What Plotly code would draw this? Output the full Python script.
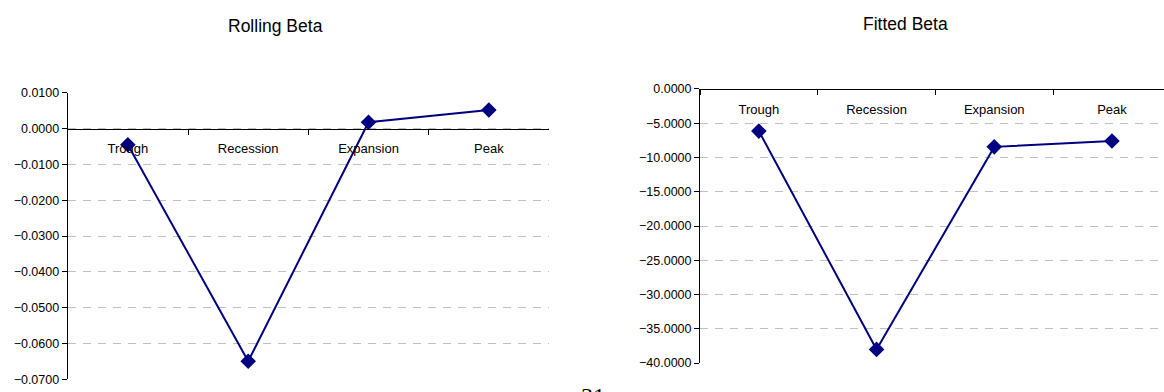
import plotly.graph_objects as go

# Business-cycle phases and beta estimates
phases = ["Trough", "Recession", "Expansion", "Peak"]
rolling_beta = [-0.0045, -0.0650, 0.0018, 0.0052]
fitted_beta = [-6.15, -38.0, -8.45, -7.6]

rolling_ticks = [0.01, 0.0, -0.01, -0.02, -0.03, -0.04, -0.05, -0.06, -0.07]
fitted_ticks = [0.0, -5.0, -10.0, -15.0, -20.0, -25.0, -30.0, -35.0, -40.0]

W, H = 1164, 392
NAVY = "#000080"
GRID = "#c0c0c0"
FONT = "Liberation Sans, Arial, sans-serif"


def px_x(v):
    return v / W


def px_y(v):
    return 1 - v / H


fig = go.Figure()

fig.add_trace(go.Scatter(
    x=phases, y=rolling_beta, mode="lines+markers",
    line=dict(color=NAVY, width=2),
    marker=dict(symbol="diamond", size=12, color=NAVY),
    xaxis="x", yaxis="y", showlegend=False,
))
fig.add_trace(go.Scatter(
    x=phases, y=fitted_beta, mode="lines+markers",
    line=dict(color=NAVY, width=2),
    marker=dict(symbol="diamond", size=12, color=NAVY),
    xaxis="x2", yaxis="y2", showlegend=False,
))

# plot areas (pixel geometry converted to paper fractions)
left_x = [px_x(67.7), px_x(549)]
left_y = [px_y(386), px_y(89)]
right_x = [px_x(700), 1.0]
right_y = [px_y(369.3), px_y(85)]

r1 = [min(rolling_ticks), max(rolling_ticks)]
r2 = [min(fitted_ticks), max(fitted_ticks)]

# category axes sit on the zero line of each value axis
zero1 = left_y[0] + (0 - r1[0]) / (r1[1] - r1[0]) * (left_y[1] - left_y[0])
zero2 = right_y[0] + (0 - r2[0]) / (r2[1] - r2[0]) * (right_y[1] - right_y[0])

# right chart continues past the edge of the page
cat_w = 117.7
right_span = (W - 700) / cat_w

xcommon = dict(
    type="category", showgrid=False, showline=True, linecolor="black",
    linewidth=1, ticks="outside", ticklen=5, tickcolor="black",
    tickson="boundaries", ticklabelstandoff=8,
    tickfont=dict(family=FONT, size=13, color="black"),
    anchor="free", side="bottom", fixedrange=True,
)
ycommon = dict(
    showgrid=True, gridcolor=GRID, gridwidth=1, griddash="8px,7px",
    zeroline=False, showline=True, linecolor="black", linewidth=1,
    ticks="outside", ticklen=5, tickcolor="black",
    tickfont=dict(family=FONT, size=12.5, color="black"),
    fixedrange=True,
)

fig.update_layout(
    width=W, height=H,
    margin=dict(l=0, r=0, t=0, b=0),
    paper_bgcolor="white", plot_bgcolor="rgba(0,0,0,0)",
    xaxis=dict(xcommon, domain=left_x, range=[-0.5, 3.5], position=zero1),
    yaxis=dict(ycommon, domain=left_y, range=r1, anchor="x",
               tickvals=rolling_ticks, tickformat=".4f"),
    xaxis2=dict(xcommon, domain=right_x, range=[-0.5, -0.5 + right_span],
                position=zero2),
    yaxis2=dict(ycommon, domain=right_y, range=r2, anchor="x2",
                tickvals=fitted_ticks, tickformat=".4f"),
    annotations=[
        dict(text="Rolling Beta", x=px_x(275), y=px_y(20), xref="paper",
             yref="paper", showarrow=False, xanchor="center",
             yanchor="middle", font=dict(family=FONT, size=17.5, color="black")),
        dict(text="Fitted Beta", x=px_x(905), y=px_y(18), xref="paper",
             yref="paper", showarrow=False, xanchor="center",
             yanchor="middle", font=dict(family=FONT, size=17.5, color="black")),
        # page number at the foot of the sheet
        dict(text="31", x=px_x(593), y=px_y(403), xref="paper",
             yref="paper", showarrow=False, xanchor="center",
             yanchor="middle",
             font=dict(family="Liberation Serif, Times New Roman, serif",
                       size=24, color="black")),
    ],
)

fig.write_html("out.html")
